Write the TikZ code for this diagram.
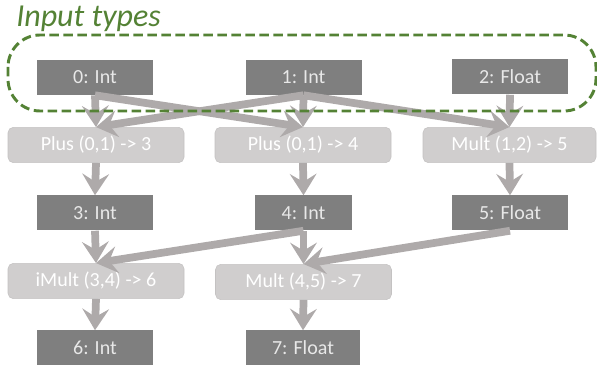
\documentclass[tikz,border=0pt]{standalone}
\usepackage{fontspec}
\setmainfont{Carlito}
\usetikzlibrary{arrows.meta}
\definecolor{typefill}{RGB}{127,127,127}
\definecolor{typetext}{RGB}{232,232,232}
\definecolor{opfill}{RGB}{208,206,206}
\definecolor{opline}{RGB}{196,194,194}
\definecolor{flowgray}{RGB}{174,170,170}
\definecolor{inputgreen}{RGB}{84,130,53}

\begin{document}
\begin{tikzpicture}[x=0.75pt, y=-0.75pt,
    typebox/.style={fill=typefill, text=typetext, inner sep=0pt,
        minimum width=87pt, minimum height=26.25pt, font=\fontsize{15}{18}\selectfont},
    opbox/.style={fill=opfill, draw=opline, rounded corners=4pt, text=white, inner sep=0pt,
        minimum width=132pt, minimum height=26.5pt, font=\fontsize{15}{18}\selectfont},
    flow/.style={draw=flowgray, line width=5.8pt, -{Stealth[length=16pt, width=20pt, inset=6pt]}}]
    \useasboundingbox (0,0) rectangle (597,367);

    % types and operations
    \node[typebox] (t0) at (95,77.5) {0: Int};
    \node[typebox] (t1) at (303.5,77.5) {1: Int};
    \node[typebox] (t2) at (510,77) {2: Float};
    \node[opbox] (o3) at (96,145) {Plus (0,1) -> 3};
    \node[opbox] (o4) at (303,145) {Plus (0,1) -> 4};
    \node[opbox, minimum width=129.75pt] (o5) at (509.5,145) {Mult (1,2) -> 5};
    \node[typebox] (t3) at (95,213) {3: Int};
    \node[typebox, minimum width=72.75pt] (t4) at (303.5,213) {4: Int};
    \node[typebox] (t5) at (510,213) {5: Float};
    \node[opbox] (o6) at (96,281) {iMult (3,4) -> 6};
    \node[opbox] (o7) at (303.5,282) {Mult (4,5) -> 7};
    \node[typebox] (t6) at (95,348) {6: Int};
    \node[typebox, minimum width=85.5pt] (t7) at (303,348) {7: Float};

    % data flow
    \foreach \a/\b in {t0/o3, t0/o4, t1/o3, t1/o4, t1/o5, t2/o5, o3/t3, o4/t4, o5/t5,
                       t3/o6, t4/o6, t4/o7, t5/o7, o6/t6, o7/t7}
        \draw[flow] (\a.south) -- (\b.north);

    % input frame
    \draw[inputgreen, line width=2.2pt, dash pattern=on 7pt off 3.5pt, rounded corners=24pt]
        (8,35) rectangle (596,111);
    \node[anchor=base west, inner sep=0pt, text=inputgreen,
        font=\fontsize{24}{29}\selectfont\itshape] (title) at (16,27) {Input types};
\end{tikzpicture}
\end{document}
